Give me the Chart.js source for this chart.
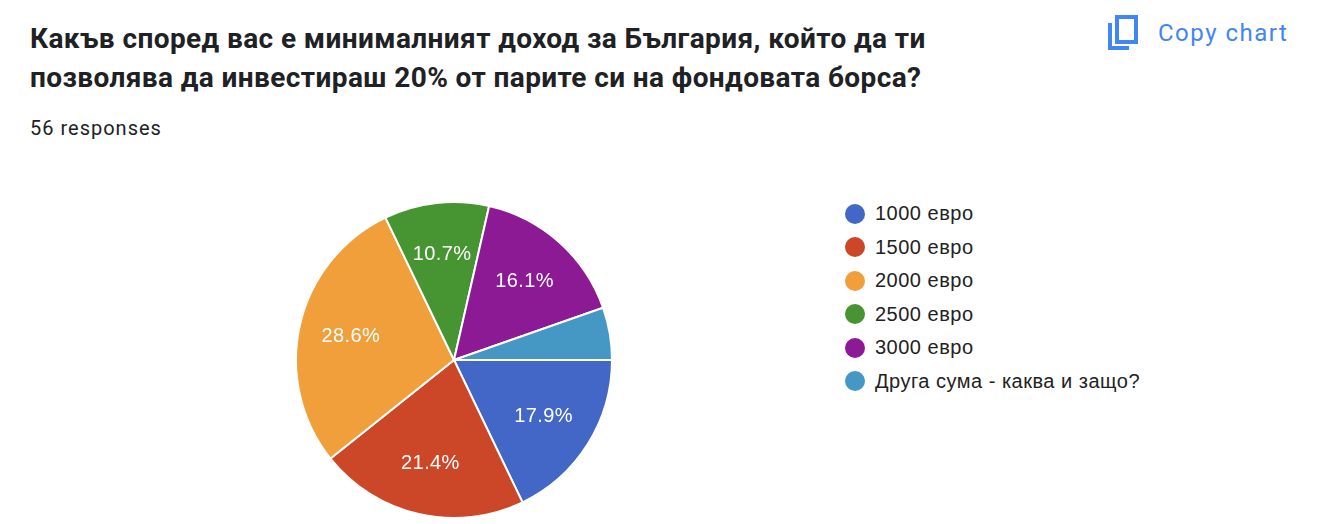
<!DOCTYPE html>
<html>
<head>
<meta charset="utf-8">
<script src="https://cdn.jsdelivr.net/npm/chart.js@4/dist/chart.umd.min.js"></script>
<style>
  body { margin: 0; background: #fff; width: 1320px; height: 524px; overflow: hidden; position: relative; font-family: "Liberation Sans", Arial, sans-serif; }
  #title { position: absolute; left: 30px; top: 19px; font-family: Roboto, sans-serif; font-weight: 700; font-size: 28px; letter-spacing: 0.4px; line-height: 39px; color: #202124; }
  #resp { position: absolute; left: 30px; top: 116px; font-family: Roboto, sans-serif; font-size: 20px; letter-spacing: 1px; color: #202124; }
  #copy { position: absolute; left: 1107px; top: 14px; height: 38px; display: flex; align-items: center; color: #4285f4; font-family: Roboto, sans-serif; font-size: 24px; letter-spacing: 1.5px; }
  #copy svg { margin-right: 19px; }
  #chartBox { position: absolute; left: 295px; top: 201px; width: 318px; height: 318px; }
  #legend { position: absolute; left: 845px; top: 197px; }
  .item { display: flex; align-items: center; height: 33.5px; font-size: 20px; letter-spacing: 0.5px; color: #222; }
  .dot { width: 20px; height: 20px; border-radius: 50%; margin-right: 10px; }
</style>
</head>
<body>
<div id="title">Какъв според вас е минималният доход за България, който да ти<br>позволява да инвестираш 20% от парите си на фондовата борса?</div>
<div id="resp">56 responses</div>
<div id="copy">
  <svg width="32" height="36" viewBox="0 0 32 36"><path d="M3 8 V33 H22" fill="none" stroke="#4285f4" stroke-width="4"/><rect x="10" y="2" width="19" height="25" fill="none" stroke="#4285f4" stroke-width="4"/></svg>
  Copy chart
</div>
<div id="chartBox"><canvas id="pieChart"></canvas></div>
<div id="legend"></div>
<script>
// Answers and counts (56 responses)
const labels = ['1000 евро', '1500 евро', '2000 евро', '2500 евро', '3000 евро', 'Друга сума - каква и защо?'];
const counts = [10, 12, 16, 6, 9, 3];
const colors = ['#4267c6', '#cc4628', '#f09f3b', '#469532', '#8c1a94', '#4598c4'];

const total = counts.reduce((a, b) => a + b, 0);

// Percent labels inside slices (small slices left blank)
const sliceLabels = {
    id: 'sliceLabels',
    afterDatasetsDraw(chart) {
        const c = chart.ctx;
        chart.getDatasetMeta(0).data.forEach((arc, i) => {
            const share = counts[i] / total;
            if (share < 0.06) return;
            const p = arc.getProps(['x', 'y', 'startAngle', 'endAngle', 'outerRadius'], true);
            const mid = (p.startAngle + p.endAngle) / 2;
            const r = p.outerRadius * 0.67;
            c.save();
            c.fillStyle = '#fff';
            c.font = '20px "Liberation Sans", Arial, sans-serif';
            c.letterSpacing = '0.4px';
            c.textAlign = 'center';
            c.textBaseline = 'middle';
            c.fillText((share * 100).toFixed(1) + '%', p.x + Math.cos(mid) * r, p.y + Math.sin(mid) * r);
            c.restore();
        });
    }
};

const ctx = document.getElementById('pieChart').getContext('2d');
const pieChart = new Chart(ctx, {
    type: 'pie',
    data: {
        labels: labels,
        datasets: [{
            data: counts,
            backgroundColor: colors,
            borderColor: '#fff',
            borderWidth: 2
        }]
    },
    options: {
        responsive: true,
        maintainAspectRatio: false,
        animation: false,
        rotation: 90,
        layout: { padding: 0 },
        plugins: {
            legend: { display: false },
            tooltip: { enabled: false }
        }
    },
    plugins: [sliceLabels]
});

// Legend
const legend = document.getElementById('legend');
labels.forEach((name, i) => {
    const row = document.createElement('div');
    row.className = 'item';
    row.innerHTML = `<span class="dot" style="background:${colors[i]}"></span>${name}`;
    legend.appendChild(row);
});
</script>
</body>
</html>
